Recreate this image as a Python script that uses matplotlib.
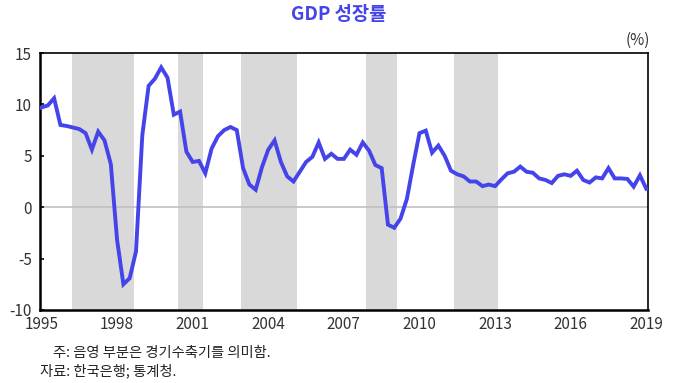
import matplotlib
matplotlib.use("Agg")
import matplotlib.pyplot as plt
import numpy as np

plt.rcParams['font.family'] = ['Noto Sans CJK KR', 'DejaVu Sans']
plt.rcParams['axes.unicode_minus'] = False

# quarterly GDP growth (%, yoy), 1995Q1 - 2019Q1
growth = [9.7, 9.9, 10.6, 8.0,
          7.9, 7.75, 7.6, 7.2,
          5.6, 7.35, 6.5, 4.2,
          -3.2, -7.5, -6.9, -4.3,
          7.0, 11.8, 12.5, 13.6,
          12.6, 9.0, 9.3, 5.4,
          4.4, 4.5, 3.3, 5.7,
          6.9, 7.5, 7.8, 7.5,
          3.8, 2.2, 1.7, 3.9,
          5.6, 6.5, 4.4, 3.0,
          2.5, 3.45, 4.4, 4.9,
          6.3, 4.7, 5.2, 4.7,
          4.7, 5.6, 5.1, 6.3,
          5.5, 4.1, 3.8, -1.7,
          -2.0, -1.1, 0.8, 4.1,
          7.2, 7.45, 5.3, 6.0,
          5.0, 3.55, 3.2, 3.0,
          2.5, 2.5, 2.05, 2.2,
          2.05, 2.7, 3.3, 3.45,
          3.95, 3.45, 3.35, 2.8,
          2.65, 2.35, 3.05, 3.2,
          3.05, 3.55, 2.65, 2.4,
          2.9, 2.8, 3.8, 2.8,
          2.8, 2.75, 2.0, 3.1,
          1.8]
quarters = 1995 + np.arange(len(growth)) / 4.0

# contraction periods (start, end)
recessions = [(1996.21, 1998.67), (2000.42, 2001.41), (2002.92, 2005.14),
              (2007.88, 2009.11), (2011.37, 2013.11)]

year_ticks = [1995, 1998, 2001, 2004, 2007, 2010, 2013, 2016, 2019]
y_ticks = [-10, -5, 0, 5, 10, 15]

fig = plt.figure(figsize=(6.78, 3.83), dpi=100)
ax = fig.add_axes([40/678, 1-310/383, 608/678, 257/383])

for s, e in recessions:
    ax.axvspan(s, e, color='#d9d9d9', lw=0, zorder=0)

ax.axhline(0, color='#c0c0c0', lw=1.2, zorder=1)
ax.plot(quarters, growth, color='#4444ea', lw=2.8, zorder=3, solid_joinstyle='miter')

ax.set_xlim(1994.94, 2019.07)
ax.set_ylim(-10, 15)
ax.set_xticks(year_ticks)
ax.set_yticks(y_ticks)
ax.tick_params(axis='x', length=0, labelsize=11, labelcolor='#333333', pad=4)
ax.tick_params(axis='y', direction='in', length=3, width=1.2, labelsize=11,
               labelcolor='#333333', pad=6)

for side in ['left', 'bottom']:
    ax.spines[side].set_linewidth(1.8)
for side in ['top', 'right']:
    ax.spines[side].set_linewidth(1.2)

fig.text(0.5, 1-14/383, 'GDP 성장률', ha='center', va='center',
         fontsize=13.5, fontweight='bold', color='#4444ea')
fig.text(650/678, 1-40/383, '(%)', ha='right', va='center', fontsize=11, color='#333333')
fig.text(53/678, 1-353/383, '주: 음영 부분은 경기수축기를 의미함.', ha='left', va='center',
         fontsize=10.3, color='#222222')
fig.text(40/678, 1-371/383, '자료: 한국은행; 통계청.', ha='left', va='center',
         fontsize=10.3, color='#222222')

fig.savefig('out.png', dpi=100)
